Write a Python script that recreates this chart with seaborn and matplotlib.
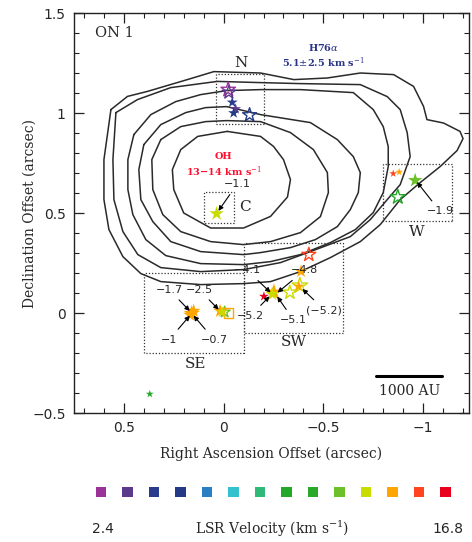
import numpy as np
import pandas as pd
import seaborn as sns
import matplotlib.pyplot as plt
from matplotlib.colors import ListedColormap, BoundaryNorm
from matplotlib.patches import Rectangle
from matplotlib.ticker import MultipleLocator

# LSR velocity colour scale, 14 bins from 2.4 to 16.8 km/s
vel_bins = [2.4, 3.5, 4.6, 5.7, 6.8, 7.9, 9.0, 10.2, 11.3, 12.4, 13.5, 14.6, 15.7, 16.8]
vel_colors = ['#993399', '#5b3a8e', '#2b3a8c', '#253a86', '#2a7fc4', '#33c1cf', '#2fb878',
              '#23a828', '#2aa82a', '#6cc02a', '#c8dc00', '#ffa500', '#ff4520', '#e8001c']

# continuum contours (RA offset, Dec offset), outermost first
cont1 = [(0.565, 1.017), (0.482, 1.083), (0.382, 1.108), (0.182, 1.167), (0.049, 1.207),
         (-0.185, 1.200), (-0.352, 1.167), (-0.519, 1.175), (-0.685, 1.200), (-0.852, 1.192),
         (-0.952, 1.133), (-1.002, 1.033), (-1.019, 0.967), (-1.102, 0.950), (-1.185, 0.908),
         (-1.200, 0.872), (-1.170, 0.812), (-1.085, 0.732), (-0.985, 0.652), (-0.885, 0.567),
         (-0.785, 0.442), (-0.685, 0.357), (-0.535, 0.277), (-0.385, 0.207), (-0.235, 0.157),
         (-0.100, 0.147), (0.115, 0.142), (0.315, 0.157), (0.415, 0.197), (0.505, 0.282),
         (0.575, 0.417), (0.600, 0.567), (0.600, 0.767)]
cont2 = [(0.540, 1.002), (0.432, 1.067), (0.265, 1.127), (0.032, 1.158), (-0.185, 1.152),
         (-0.385, 1.147), (-0.685, 1.142), (-0.820, 1.082), (-0.885, 1.017), (-0.920, 0.902),
         (-0.935, 0.782), (-0.885, 0.642), (-0.820, 0.567), (-0.735, 0.467), (-0.635, 0.382),
         (-0.435, 0.307), (-0.285, 0.252), (-0.100, 0.217), (0.115, 0.207), (0.315, 0.227),
         (0.430, 0.292), (0.505, 0.407), (0.550, 0.567), (0.555, 0.767)]
cont3 = [(0.450, 0.892), (0.365, 0.992), (0.240, 1.057), (0.115, 1.092), (-0.015, 1.112),
         (-0.185, 1.117), (-0.385, 1.117), (-0.650, 1.102), (-0.750, 1.017), (-0.800, 0.932),
         (-0.825, 0.832), (-0.825, 0.732), (-0.800, 0.602), (-0.750, 0.502), (-0.660, 0.417),
         (-0.535, 0.352), (-0.385, 0.292), (-0.235, 0.257), (-0.100, 0.242), (0.115, 0.247),
         (0.290, 0.287), (0.390, 0.367), (0.455, 0.492), (0.480, 0.617), (0.480, 0.767)]
cont4 = [(0.400, 0.842), (0.315, 0.942), (0.190, 1.002), (0.090, 1.027), (-0.015, 1.032),
         (-0.185, 0.992), (-0.435, 0.952), (-0.570, 0.867), (-0.650, 0.782), (-0.685, 0.702),
         (-0.675, 0.602), (-0.635, 0.517), (-0.570, 0.432), (-0.460, 0.367), (-0.335, 0.327),
         (-0.185, 0.302), (-0.100, 0.292), (0.115, 0.307), (0.265, 0.357), (0.355, 0.457),
         (0.415, 0.567), (0.425, 0.717)]
cont5 = [(0.315, 0.867), (0.215, 0.932), (0.090, 0.957), (-0.015, 0.962), (-0.185, 0.957),
         (-0.335, 0.902), (-0.450, 0.817), (-0.520, 0.702), (-0.525, 0.602), (-0.485, 0.482),
         (-0.385, 0.402), (-0.235, 0.357), (-0.100, 0.342), (0.065, 0.357), (0.215, 0.407),
         (0.305, 0.492), (0.355, 0.617), (0.360, 0.767)]
cont6 = [(-0.018, 0.908), (-0.185, 0.883), (-0.250, 0.833), (-0.300, 0.767), (-0.335, 0.667),
         (-0.320, 0.580), (-0.235, 0.483), (-0.100, 0.425), (0.065, 0.425), (0.200, 0.500),
         (0.250, 0.617), (0.257, 0.717), (0.215, 0.817), (0.130, 0.883)]
contours = [cont1, cont2, cont3, cont4, cont5, cont6]

# filled maser stars: x, y, velocity, marker area
fill_x = [-0.043, -0.060, -0.050, 0.035, -0.850, -0.880, -0.960,
          0.160, 0.150, 0.168, 0.018, 0.008,
          -0.388, -0.377, -0.252, -0.243, -0.202, 0.370]
fill_y = [1.053, 1.020, 1.000, 0.497, 0.697, 0.705, 0.663,
          -0.003, 0.010, -0.010, 0.010, 0.005,
          0.208, 0.133, 0.103, 0.095, 0.083, -0.405]
fill_v = [4.6, 3.5, 5.7, 13.5, 15.7, 14.6, 12.4,
          14.6, 14.6, 14.6, 14.6, 13.5,
          14.6, 14.6, 14.6, 13.5, 16.8, 10.2]
fill_s = [70, 70, 70, 120, 35, 35, 120,
          150, 110, 110, 110, 80,
          100, 70, 170, 110, 55, 35]

# open maser stars
open_x = [-0.023, -0.026, -0.130, -0.873, -0.005, -0.427, -0.332, -0.382]
open_y = [1.117, 1.103, 0.990, 0.580, 0.005, 0.292, 0.103, 0.137]
open_v = [2.4, 3.5, 5.7, 10.2, 12.4, 15.7, 13.5, 13.5]
open_s = [120, 100, 110, 120, 70, 110, 110, 140]

# open square (SE)
sq_x, sq_y, sq_v = [-0.025], [0.0], [14.6]

# dotted region boxes: name, x0, x1, y0, y1
boxes = {'N': (0.037, -0.200, 0.947, 1.197),
         'C': (0.098, -0.052, 0.450, 0.605),
         'W': (-0.797, -1.147, 0.458, 0.747),
         'SE': (0.400, -0.100, -0.200, 0.200),
         'SW': (-0.100, -0.600, -0.100, 0.350)}
box_labels = {'N': (-0.085, 1.250), 'C': (-0.105, 0.528), 'W': (-0.970, 0.405),
              'SE': (0.140, -0.255), 'SW': (-0.350, -0.145)}

# velocity annotations: text, label position, arrow target
notes = [('\u22121.1', (-0.068, 0.645), (0.030, 0.505)),
         ('\u22121.9', (-1.085, 0.508), (-0.965, 0.660)),
         ('\u22121.7', (0.273, 0.117), (0.165, 0.005)),
         ('\u22122.5', (0.123, 0.117), (0.020, 0.012)),
         ('\u22121', (0.273, -0.133), (0.165, -0.008)),
         ('\u22120.7', (0.048, -0.133), (0.155, -0.008)),
         ('\u22124.1', (-0.118, 0.213), (-0.240, 0.098)),
         ('\u22124.8', (-0.405, 0.213), (-0.265, 0.098)),
         ('\u22125.2', (-0.135, -0.013), (-0.235, 0.088)),
         ('\u22125.1', (-0.350, -0.035), (-0.265, 0.088)),
         ('(\u22125.2)', (-0.505, 0.015), (-0.390, 0.125))]

sns.set_style('ticks')
plt.rcParams['font.family'] = 'DejaVu Serif'
plt.rcParams['mathtext.fontset'] = 'dejavuserif'

cmap = ListedColormap(vel_colors)
vb = np.array(vel_bins)
mids = (vb[1:] + vb[:-1]) / 2
bounds = np.concatenate([[vb[0] - 0.55], mids, [vb[-1] + 0.55]])
norm = BoundaryNorm(bounds, cmap.N)

fig = plt.figure(figsize=(4.72, 5.42), dpi=100)
ax = fig.add_axes([0.1568, 0.238, 0.8369, 0.738])

for c in contours:
    c = np.array(c + c[:1])
    ax.plot(c[:, 0], c[:, 1], color='#2a2a2a', lw=1.1, zorder=1)

for k, (x0, x1, y0, y1) in boxes.items():
    ax.add_patch(Rectangle((x1, y0), x0 - x1, y1 - y0, fill=False, ls=(0, (1, 1.5)),
                           lw=0.9, ec='#333333', zorder=2))
    lx, ly = box_labels[k]
    ax.text(lx, ly, k, ha='center', va='center', fontsize=11)

fill_df = pd.DataFrame({'x': fill_x, 'y': fill_y, 'v': fill_v, 's': fill_s})
sns.scatterplot(data=fill_df, x='x', y='y', hue='v', palette=cmap, hue_norm=norm,
                size='s', sizes=(min(fill_s), max(fill_s)), marker='*', linewidth=0,
                legend=False, ax=ax, zorder=4)

ax.scatter(open_x, open_y, s=open_s, marker='*', facecolors='none',
           edgecolors=cmap(norm(open_v)), linewidths=1.0, zorder=3)
ax.scatter(sq_x, sq_y, s=45, marker='s', facecolors='none',
           edgecolors=cmap(norm(sq_v)), linewidths=1.0, zorder=3)

for txt, lab, tgt in notes:
    ax.annotate(txt, xy=tgt, xytext=lab, ha='center', va='center', fontsize=8,
                family='DejaVu Sans', zorder=5,
                arrowprops=dict(arrowstyle='-|>', color='k', lw=0.8, mutation_scale=7,
                                shrinkB=1))

ax.text(0.645, 1.40, 'ON 1', ha='left', va='center', fontsize=10.5)
ax.text(-0.5, 1.326, r'H76$\alpha$', ha='center', va='center', fontsize=7,
        color='#2b3587', fontweight='bold')
ax.text(-0.5, 1.250, r'5.1$\pm$2.5 km s$^{-1}$', ha='center', va='center', fontsize=7,
        color='#2b3587', fontweight='bold')
ax.text(0.0, 0.785, 'OH', ha='center', va='center', fontsize=7, color='#ff1030',
        fontweight='bold')
ax.text(0.0, 0.708, '13\u221214 km s$^{-1}$', ha='center', va='center', fontsize=7,
        color='#ff1030', fontweight='bold')

# scale bar
ax.plot([-0.765, -1.097], [-0.317, -0.317], color='k', lw=2.2)
ax.text(-0.931, -0.39, '1000 AU', ha='center', va='center', fontsize=10)

ax.set_xlim(0.75, -1.23)
ax.set_ylim(-0.5, 1.5)
ax.xaxis.set_major_locator(MultipleLocator(0.5))
ax.xaxis.set_minor_locator(MultipleLocator(0.1))
ax.yaxis.set_major_locator(MultipleLocator(0.5))
ax.yaxis.set_minor_locator(MultipleLocator(0.1))
ax.set_xticks([0.5, 0, -0.5, -1])
ax.set_xticklabels(['0.5', '0', '\u22120.5', '\u22121'])
ax.set_yticks([-0.5, 0, 0.5, 1, 1.5])
ax.set_yticklabels(['\u22120.5', '0', '0.5', '1', '1.5'])
ax.tick_params(which='both', direction='in', top=True, right=True, color='#222222')
ax.tick_params(which='major', length=7, width=0.9, pad=6, labelsize=10)
ax.tick_params(which='minor', length=3.5, width=0.8)
for lab in ax.get_xticklabels() + ax.get_yticklabels():
    lab.set_family('DejaVu Sans')
for sp in ax.spines.values():
    sp.set_linewidth(1.0)
    sp.set_color('#222222')

ax.set_xlabel('Right Ascension Offset (arcsec)', fontsize=10)
ax.set_ylabel('Declination Offset (arcsec)', fontsize=10)
ax.xaxis.set_label_coords(0.5, -0.085)
ax.yaxis.set_label_coords(-0.095, 0.5)

# velocity key
kax = fig.add_axes([0.186, 0.0738, 0.786, 0.0369])
key_df = pd.DataFrame({'i': np.arange(len(vel_bins)), 'y': np.zeros(len(vel_bins)),
                       'v': vel_bins})
sns.scatterplot(data=key_df, x='i', y='y', hue='v', palette=cmap, hue_norm=norm,
                marker='s', s=55, linewidth=0, legend=False, ax=kax)
kax.set_xlim(-0.5, len(vel_bins) - 0.5)
kax.set_ylim(-1, 1)
kax.axis('off')

fig.text(0.218, 0.024, '2.4', ha='center', va='center', fontsize=10, family='DejaVu Sans')
fig.text(0.949, 0.024, '16.8', ha='center', va='center', fontsize=10, family='DejaVu Sans')
fig.text(0.577, 0.024, 'LSR Velocity (km s$^{-1}$)', ha='center', va='center', fontsize=10)

fig.savefig('out.png', dpi=100)
